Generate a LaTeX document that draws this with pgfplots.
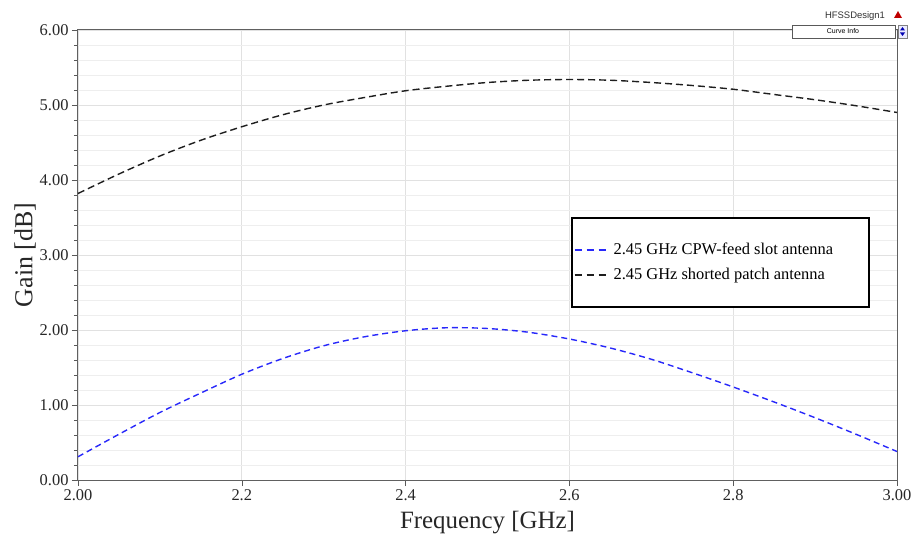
\documentclass[border=0pt]{standalone}
\usepackage{fontspec}
\setmainfont{Liberation Serif}
\newfontfamily\hfssfont{Liberation Sans}
\usepackage{pgfplots}
\pgfplotsset{compat=1.18}

\definecolor{slotblue}{RGB}{40,40,250}
\definecolor{patchblack}{RGB}{30,30,30}
\definecolor{gridmaj}{RGB}{225,225,225}
\definecolor{gridmin}{RGB}{238,238,238}

\begin{document}
\begin{tikzpicture}
\begin{axis}[
    at={(0,0)}, anchor=south west,
    scale only axis,
    width=819bp, height=450bp,
    xmin=2, xmax=3, ymin=0, ymax=6,
    xtick={2,2.2,2.4,2.6,2.8,3},
    xticklabels={2.00,2.2,2.4,2.6,2.8,3.00},
    ytick={0,1,2,3,4,5,6},
    yticklabels={0.00,1.00,2.00,3.00,4.00,5.00,6.00},
    minor y tick num=4,
    xtick pos=bottom, ytick pos=left,
    tick align=outside,
    major tick length=6bp, minor tick length=4bp,
    tick style={draw=gray!70!black, line width=0.6bp},
    ticklabel style={font=\fontsize{16.5}{18}\selectfont, text=black!85},
    xmajorgrids, ymajorgrids, yminorgrids,
    major grid style={draw=gridmaj, line width=0.8bp},
    minor grid style={draw=gridmin, line width=0.8bp},
    axis line style={draw=gray!75!black, line width=1bp},
    xlabel={Frequency [GHz]},
    ylabel={Gain [dB]},
    xlabel style={font=\fontsize{25}{28}\selectfont, text=black!85, yshift=-4bp},
    ylabel style={font=\fontsize{26}{28}\selectfont, text=black!85, yshift=-3bp},
    legend style={at={(rel axis cs:0.602,0.5844)}, anchor=north west,
        draw=black, line width=1.6bp, inner xsep=2bp, inner ysep=23.5bp,
        font=\fontsize{16.5}{18}\selectfont, row sep=8bp, column sep=4bp},
    legend cell align=left,
    legend image code/.code={\draw[#1, line width=1.7bp, dash pattern=on 7bp off 5bp] (0bp,0bp) -- (32bp,0bp);},
]
\addplot[draw=slotblue, line width=1.4bp, dash pattern=on 6bp off 4bp, smooth] coordinates {
(2.00,0.31) (2.05,0.61) (2.10,0.90) (2.15,1.16) (2.20,1.41) (2.25,1.62)
(2.30,1.79) (2.35,1.91) (2.40,1.99) (2.45,2.03) (2.50,2.02) (2.55,1.97)
(2.60,1.88) (2.65,1.76) (2.70,1.61) (2.75,1.43) (2.80,1.24) (2.85,1.04)
(2.90,0.83) (2.95,0.61) (3.00,0.38)
};
\addlegendentry{2.45 GHz CPW-feed slot antenna\hspace*{32bp}}
\addplot[draw=patchblack, line width=1.4bp, dash pattern=on 7bp off 4bp, smooth] coordinates {
(2.00,3.82) (2.05,4.08) (2.10,4.32) (2.15,4.53) (2.20,4.71) (2.25,4.87)
(2.30,5.00) (2.35,5.10) (2.40,5.19) (2.45,5.25) (2.50,5.30) (2.55,5.33)
(2.60,5.34) (2.65,5.33) (2.70,5.30) (2.75,5.26) (2.80,5.21) (2.85,5.14)
(2.90,5.07) (2.95,4.99) (3.00,4.90)
};
\addlegendentry{2.45 GHz shorted patch antenna}
\end{axis}
% HFSS header decorations
\node[font=\hfssfont\fontsize{9.5}{11}\selectfont, text=black!80] at (777bp,464bp) {HFSSDesign1};
\fill[red!75!black] (816bp,462bp) -- (824bp,462bp) -- (820bp,469bp) -- cycle;
\draw[gray!70!black, fill=white, line width=0.6bp] (714bp,442bp) rectangle (817bp,455bp);
\node[font=\hfssfont\fontsize{7}{8}\selectfont] at (765bp,448.5bp) {Curve Info};
\draw[gray, fill=blue!8, line width=0.5bp] (820bp,442bp) rectangle (829bp,455bp);
\fill[blue!70!black] (822bp,449.5bp) -- (827bp,449.5bp) -- (824.5bp,453bp) -- cycle;
\fill[blue!70!black] (822bp,447.5bp) -- (827bp,447.5bp) -- (824.5bp,444bp) -- cycle;
\pgfresetboundingbox
\path (-78bp,-54bp) rectangle (837bp,480bp);
\end{tikzpicture}
\end{document}
